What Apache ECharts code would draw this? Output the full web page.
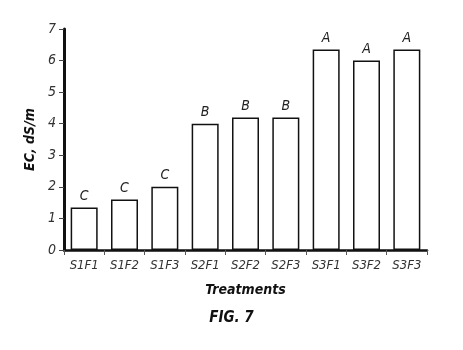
<!DOCTYPE html>
<html>
<head>
<meta charset="utf-8">
<script src="https://cdn.jsdelivr.net/npm/echarts@6/dist/echarts.min.js"></script>
<style>
  html, body { margin: 0; padding: 0; background: #fff; }
  #chart { width: 463px; height: 350px; }
</style>
</head>
<body>
<div id="chart"></div>
<script>
// 处理组合
const treatments = ['S1F1', 'S1F2', 'S1F3', 'S2F1', 'S2F2', 'S2F3', 'S3F1', 'S3F2', 'S3F3'];
// EC 值 (dS/m)
const ecValues = [1.35, 1.6, 2.0, 4.0, 4.2, 4.2, 6.35, 6.0, 6.35];
// 显著性字母
const groupLetters = ['C', 'C', 'C', 'B', 'B', 'B', 'A', 'A', 'A'];
const yTicks = [0, 1, 2, 3, 4, 5, 6, 7];

const font = '"DejaVu Sans Condensed", "Liberation Sans", Arial, sans-serif';

const myChart = echarts.init(document.getElementById('chart'));
const option = {
  animation: false,
  title: {
    text: 'FIG. 7',
    left: 'center',
    top: 306,
    textStyle: { fontFamily: font, fontStyle: 'italic', fontWeight: 'bold', fontSize: 15, color: '#111' }
  },
  grid: { left: 64, right: 36, top: 29, bottom: 100 },
  xAxis: {
    type: 'category',
    data: treatments,
    name: 'Treatments',
    nameLocation: 'middle',
    nameGap: 33,
    nameTextStyle: { fontFamily: font, fontStyle: 'italic', fontWeight: 'bold', fontSize: 14, color: '#111' },
    axisLine: { lineStyle: { color: '#111', width: 2.5 } },
    axisTick: { show: true, length: 5, lineStyle: { color: '#555', width: 1 } },
    axisLabel: { interval: 0, fontFamily: font, fontStyle: 'italic', fontSize: 13, color: '#333', margin: 9 }
  },
  yAxis: {
    type: 'value',
    min: 0,
    max: 7,
    interval: 1,
    name: 'EC, dS/m',
    nameLocation: 'middle',
    nameGap: 26,
    nameTextStyle: { fontFamily: font, fontStyle: 'italic', fontWeight: 'bold', fontSize: 14, color: '#111' },
    axisLine: { show: true, lineStyle: { color: '#111', width: 3 } },
    axisTick: { show: true, length: 5, lineStyle: { color: '#444', width: 1 } },
    axisLabel: {
      fontFamily: font, fontStyle: 'italic', fontSize: 14, color: '#333', margin: 8,
      formatter: v => (yTicks.indexOf(v) >= 0 ? String(v) : '')
    },
    splitLine: { show: false }
  },
  series: [{
    type: 'bar',
    data: ecValues,
    barWidth: 27,
    itemStyle: { color: '#fff', borderColor: '#111', borderWidth: 1.5 },
    label: {
      show: true,
      position: 'top',
      distance: 4,
      formatter: p => groupLetters[p.dataIndex],
      fontFamily: font, fontStyle: 'italic', fontSize: 14, color: '#222'
    }
  }]
};
myChart.setOption(option);
</script>
</body>
</html>
